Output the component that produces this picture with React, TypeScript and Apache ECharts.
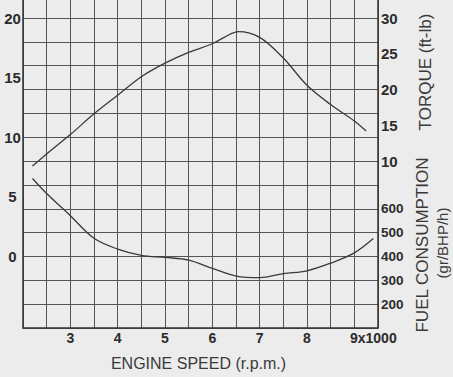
import React, { useEffect, useRef } from "react";
import * as echarts from "echarts";

// Engine speed (rpm) and curves
const torqueRpm = [2200, 2500, 3000, 3500, 4000, 4500, 5000, 5500, 6000, 6250, 6550, 7000, 7500, 8000, 8500, 9000, 9250];
const torqueVals = [9.3, 11.0, 13.7, 16.6, 19.2, 21.8, 23.7, 25.2, 26.4, 27.3, 28.1, 27.3, 24.4, 20.6, 17.9, 15.6, 14.2];

const fuelRpm = [2200, 2500, 3000, 3500, 4000, 4500, 5000, 5500, 6000, 6500, 7000, 7500, 8000, 8500, 9000, 9400];
const fuelVals = [727, 664, 571, 476, 431, 405, 396, 385, 350, 318, 311, 328, 340, 372, 415, 475];

// Tick labels
const leftTicks = [0, 5, 10, 15, 20];
const torqueTicks = [10, 15, 20, 25, 30];
const fuelTicks = [200, 300, 400, 500, 600];
const speedTicks = [3, 4, 5, 6, 7, 8, 9];

// Left (base) scale extent
const V_MIN = -6;
const V_MAX = 21.51;
const torqueFromV = (v: number) => 10 + ((v - 8) * 5) / 3;
const fuelFromV = (v: number) => 400 + v * 50;

const FONT = "'Liberation Sans', Arial, Helvetica, sans-serif";
const GRID_COLOR = "#555";
const INK = "#2b2b2b";

export default function App() {
  const ref = useRef<HTMLDivElement>(null);
  useEffect(() => {
    if (!ref.current) return;
    const chart = echarts.init(ref.current, undefined, { renderer: "svg" });
    const near = (a: number, list: number[]) => list.find((t) => Math.abs(t - a) < 1e-6);
    chart.setOption({
      animation: false,
      backgroundColor: "#ececec",
      grid: { left: 23, right: 75, top: 0, bottom: 49 },
      xAxis: {
        type: "value",
        min: 2000,
        max: 9500,
        interval: 500,
        axisLine: { show: true, onZero: false, lineStyle: { color: "#333", width: 1.5 } },
        axisTick: { show: false },
        splitLine: { show: true, lineStyle: { color: GRID_COLOR, width: 1 } },
        axisLabel: {
          margin: 3,
          color: INK,
          fontFamily: FONT,
          fontWeight: "bold",
          fontSize: 14,
          formatter: (v: number) => {
            const k = v / 1000;
            if (near(k, speedTicks) === undefined) return "";
            if (k === speedTicks[speedTicks.length - 1]) return "{n|" + k + "x1000}";
            return String(k);
          },
          rich: {
            n: {
              color: INK,
              fontFamily: FONT,
              fontWeight: "bold",
              fontSize: 14,
              padding: [0, 0, 0, 38],
            },
          },
        },
      },
      yAxis: [
        {
          type: "value",
          position: "left",
          min: V_MIN,
          max: V_MAX,
          interval: 1,
          axisLine: { show: true, onZero: false, lineStyle: { color: "#333", width: 1.5 } },
          axisTick: { show: false },
          splitLine: { show: false },
          axisLabel: {
            margin: 10.5,
            align: "center",
            color: INK,
            fontFamily: FONT,
            fontWeight: "bold",
            fontSize: 15,
            formatter: (v: number) => {
              const t = near(v, leftTicks);
              return t === undefined ? "" : String(t);
            },
          },
        },
        {
          type: "value",
          position: "left",
          min: V_MIN,
          max: V_MAX,
          interval: 2,
          axisLine: { show: false },
          axisTick: { show: false },
          axisLabel: { show: false },
          splitLine: { show: true, showMaxLine: false, lineStyle: { color: GRID_COLOR, width: 1 } },
        },
        {
          type: "value",
          position: "right",
          min: V_MIN,
          max: V_MAX,
          interval: 1,
          axisLine: { show: true, onZero: false, lineStyle: { color: "#333", width: 1.5 } },
          axisTick: { show: false },
          splitLine: { show: false },
          axisLabel: {
            margin: 3,
            color: INK,
            fontFamily: FONT,
            fontWeight: "bold",
            formatter: (v: number) => {
              const t = near(torqueFromV(v), torqueTicks);
              if (t !== undefined) return "{t|" + t + "}";
              const f = near(fuelFromV(v), fuelTicks);
              if (f !== undefined) return "{f|" + f + "}";
              return "";
            },
            rich: {
              t: { color: INK, fontFamily: FONT, fontWeight: "bold", fontSize: 15 },
              f: { color: INK, fontFamily: FONT, fontWeight: "bold", fontSize: 13.5 },
            },
          },
        },
        {
          type: "value",
          show: false,
          min: torqueFromV(V_MIN),
          max: torqueFromV(V_MAX),
        },
        {
          type: "value",
          show: false,
          min: fuelFromV(V_MIN),
          max: fuelFromV(V_MAX),
        },
      ],
      graphic: [
        {
          type: "text",
          x: 198.5,
          y: 363.5,
          style: {
            text: "ENGINE SPEED (r.p.m.)",
            fill: "#3a3a3a",
            font: "16px " + FONT,
            textAlign: "center",
            textVerticalAlign: "middle",
          },
        },
        {
          type: "text",
          x: 425,
          y: 72,
          rotation: Math.PI / 2,
          style: {
            text: "TORQUE (ft-lb)",
            fill: "#3a3a3a",
            font: "17px " + FONT,
            textAlign: "center",
            textVerticalAlign: "middle",
          },
        },
        {
          type: "text",
          x: 422,
          y: 245,
          rotation: Math.PI / 2,
          style: {
            text: "FUEL CONSUMPTION",
            fill: "#3a3a3a",
            font: "17px " + FONT,
            textAlign: "center",
            textVerticalAlign: "middle",
          },
        },
        {
          type: "text",
          x: 442,
          y: 243,
          rotation: Math.PI / 2,
          style: {
            text: "(gr/BHP/h)",
            fill: "#3a3a3a",
            font: "15px " + FONT,
            textAlign: "center",
            textVerticalAlign: "middle",
          },
        },
      ],
      series: [
        {
          name: "Torque",
          type: "line",
          yAxisIndex: 3,
          data: torqueRpm.map((r, i) => [r, torqueVals[i]]),
          smooth: 0.35,
          showSymbol: false,
          lineStyle: { color: "#3a3a3a", width: 1.3 },
        },
        {
          name: "Fuel consumption",
          type: "line",
          yAxisIndex: 4,
          data: fuelRpm.map((r, i) => [r, fuelVals[i]]),
          smooth: 0.35,
          showSymbol: false,
          lineStyle: { color: "#3a3a3a", width: 1.3 },
        },
      ],
    });
    return () => chart.dispose();
  }, []);
  return (
    <div
      ref={ref}
      style={{ position: "fixed", left: 0, top: 0, width: 453, height: 377 }}
    />
  );
}
